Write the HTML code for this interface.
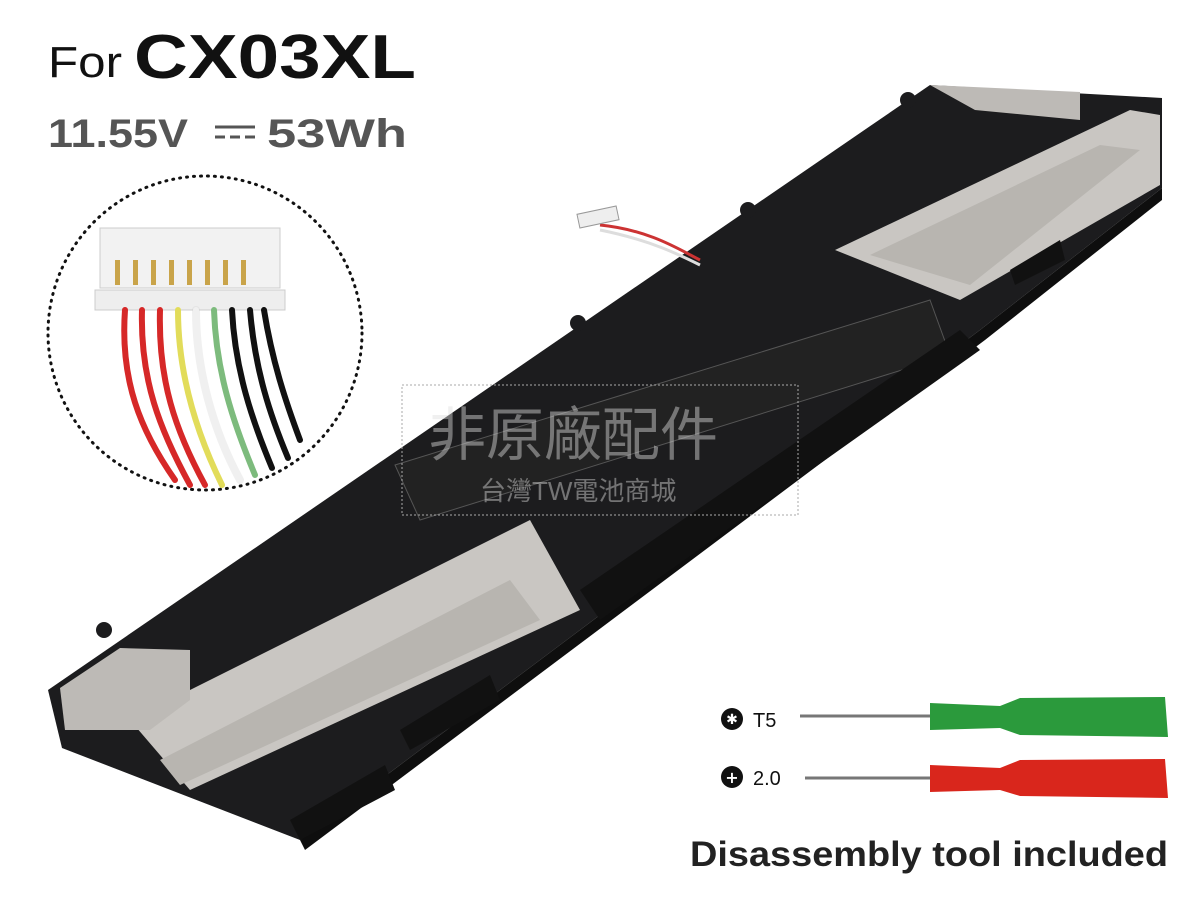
<!DOCTYPE html>
<html><head><meta charset="utf-8"><style>
html,body{margin:0;padding:0;background:#fff;width:1200px;height:900px;overflow:hidden}
svg{display:block}
</style></head><body>
<svg width="1200" height="900" viewBox="0 0 1200 900" xmlns="http://www.w3.org/2000/svg">
<rect width="1200" height="900" fill="#fff"/>
<text x="48" y="77" font-family="Liberation Sans, sans-serif" font-size="44" fill="#111" textLength="74" lengthAdjust="spacingAndGlyphs">For</text>
<text x="134" y="78" font-family="Liberation Sans, sans-serif" font-size="62" font-weight="bold" fill="#111" textLength="282" lengthAdjust="spacingAndGlyphs">CX03XL</text>
<text x="48" y="147" font-family="Liberation Sans, sans-serif" font-size="40" font-weight="bold" fill="#555" textLength="140" lengthAdjust="spacingAndGlyphs">11.55V</text>
<g stroke="#555" stroke-width="3"><line x1="215" y1="127" x2="255" y2="127"/><line x1="215" y1="137" x2="225" y2="137"/><line x1="230" y1="137" x2="240" y2="137"/><line x1="245" y1="137" x2="255" y2="137"/></g>
<text x="267" y="147" font-family="Liberation Sans, sans-serif" font-size="40" font-weight="bold" fill="#555" textLength="140" lengthAdjust="spacingAndGlyphs">53Wh</text>

<!-- battery -->
<polygon points="48,690 930,85 1162,98 1162,188 980,330 300,840 62,748" fill="#1c1c1e"/>
<polygon points="300,840 980,330 1162,188 1162,200 985,340 305,850" fill="#0e0e0e"/>
<!-- tapes -->
<polygon points="130,720 530,520 580,610 190,790" fill="#c9c6c2"/>
<polygon points="160,760 510,580 540,620 180,785" fill="#b8b5b0"/>
<polygon points="835,250 1130,110 1160,115 1160,185 960,300" fill="#c9c6c2"/>
<polygon points="870,255 1100,145 1140,150 970,285" fill="#b8b5b0"/>
<polygon points="930,85 1080,92 1080,120 975,110" fill="#bdbab6"/>
<polygon points="60,688 120,648 190,650 190,700 150,730 65,730" fill="#bdbab6"/>
<!-- label -->
<polygon points="395,465 930,300 950,355 420,520" fill="#222" stroke="#555" stroke-width="1"/>
<!-- connectors -->
<polygon points="580,590 960,330 980,350 600,620" fill="#111"/>
<polygon points="290,820 385,765 395,790 300,840" fill="#111"/>
<polygon points="400,730 490,675 500,700 410,750" fill="#111"/>
<polygon points="1010,270 1060,240 1065,260 1015,285" fill="#111"/>
<!-- tabs -->
<circle cx="908" cy="100" r="8" fill="#1c1c1e"/><circle cx="748" cy="210" r="8" fill="#1c1c1e"/>
<circle cx="578" cy="323" r="8" fill="#1c1c1e"/><circle cx="104" cy="630" r="8" fill="#1c1c1e"/>
<!-- cable -->
<path d="M600 225 C650 230,680 250,700 260" stroke="#c33" stroke-width="3" fill="none"/>
<path d="M600 230 C650 240,680 255,700 265" stroke="#ddd" stroke-width="3" fill="none"/>
<rect x="578" y="210" width="40" height="14" fill="#eee" stroke="#999" transform="rotate(-12 598 217)"/>

<!-- watermark -->
<rect x="402" y="385" width="396" height="130" fill="none" stroke="#aaa" stroke-dasharray="2,2"/>
<text x="428" y="455" font-family="Liberation Sans, Noto Sans CJK TC, sans-serif" font-size="58" fill="#ddd" fill-opacity="0.45">非原廠配件</text>
<text x="480" y="500" font-family="Liberation Sans, Noto Sans CJK TC, sans-serif" font-size="26" fill="#ddd" fill-opacity="0.45">台灣TW電池商城</text>

<!-- circle zoom -->
<circle cx="205" cy="333" r="157" fill="#fff" stroke="#111" stroke-width="3" stroke-dasharray="1,6" stroke-linecap="round"/>
<rect x="100" y="228" width="180" height="60" fill="#f2f2f2" stroke="#ccc"/>
<rect x="95" y="290" width="190" height="20" fill="#eee" stroke="#ccc"/>
<g fill="#c9a44a"><rect x="115" y="260" width="5" height="25"/><rect x="133" y="260" width="5" height="25"/><rect x="151" y="260" width="5" height="25"/><rect x="169" y="260" width="5" height="25"/><rect x="187" y="260" width="5" height="25"/><rect x="205" y="260" width="5" height="25"/><rect x="223" y="260" width="5" height="25"/><rect x="241" y="260" width="5" height="25"/></g>
<g fill="none" stroke-width="6" stroke-linecap="round">
<path d="M125 310 C120 380,140 430,175 480" stroke="#d62828"/>
<path d="M142 310 C140 380,160 430,190 485" stroke="#d62828"/>
<path d="M160 310 C158 380,175 430,205 485" stroke="#d62828"/>
<path d="M178 310 C178 370,195 430,222 485" stroke="#e2dc5a"/>
<path d="M196 310 C196 370,213 430,240 480" stroke="#ffffff"/>
<path d="M196 310 C196 370,213 430,240 480" stroke="#ccc" stroke-width="8" stroke-opacity="0.3"/>
<path d="M214 310 C216 370,232 420,255 475" stroke="#7dbb7d"/>
<path d="M232 310 C235 370,252 420,272 468" stroke="#111"/>
<path d="M250 310 C255 370,270 415,288 458" stroke="#111"/>
<path d="M264 310 C272 360,285 400,300 440" stroke="#111"/>
</g>

<!-- screwdrivers -->
<circle cx="732" cy="719" r="11" fill="#111"/><text x="732" y="724" text-anchor="middle" font-size="14" fill="#fff" font-family="DejaVu Sans">✱</text>
<text x="753" y="727" font-family="Liberation Sans, sans-serif" font-size="20" fill="#111">T5</text>
<line x1="800" y1="716" x2="935" y2="716" stroke="#777" stroke-width="3"/>
<path d="M930 703 L1000 706 L1020 698 L1165 697 L1168 737 L1020 735 L1000 728 L930 730 Z" fill="#2b9a3c"/>
<circle cx="732" cy="777" r="11" fill="#111"/><text x="732" y="783" text-anchor="middle" font-size="16" font-weight="bold" fill="#fff" font-family="DejaVu Sans">+</text>
<text x="753" y="785" font-family="Liberation Sans, sans-serif" font-size="20" fill="#111">2.0</text>
<line x1="805" y1="778" x2="935" y2="778" stroke="#777" stroke-width="3"/>
<path d="M930 765 L1000 768 L1020 760 L1165 759 L1168 798 L1020 796 L1000 790 L930 792 Z" fill="#d9261c"/>
<text x="690" y="866" font-family="Liberation Sans, sans-serif" font-size="35" font-weight="bold" fill="#222" textLength="478" lengthAdjust="spacingAndGlyphs">Disassembly tool included</text>
</svg>
</body></html>
